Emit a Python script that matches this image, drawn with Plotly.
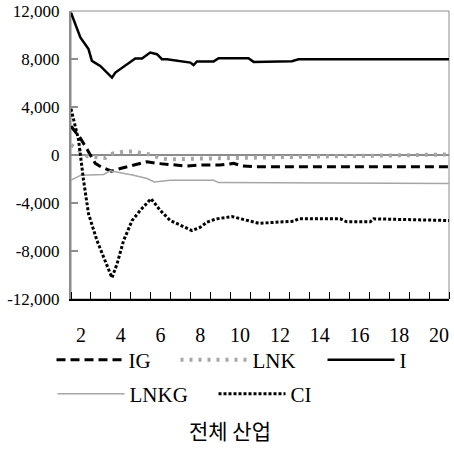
import plotly.graph_objects as go

# ---- data (period, value) ----
IG_x = [1.5, 1.97, 2.38, 2.72, 3.02, 3.53, 4.03, 4.63, 5.32, 5.82, 6.66, 7.33, 8.0, 9.0, 9.67, 10.09, 10.68, 20.5]
IG_y = [2400, 1400, 280, -700, -1000, -1350, -1100, -840, -560, -700, -840, -920, -840, -840, -700, -900, -980, -980]

LNK_x = [1.5, 1.97, 2.33, 3.22, 3.61, 4.14, 4.65, 5.1, 5.57, 5.99, 6.4, 8.0, 11.0, 15.5, 18.0, 20.5]
LNK_y = [840, 360, -100, -250, 140, 280, 300, 140, 0, -280, -360, -300, -180, -80, -30, 50]

I_x = [1.5, 1.97, 2.38, 2.55, 2.97, 3.56, 3.73, 4.22, 4.73, 5.07, 5.48, 5.82, 6.07, 6.32, 7.5, 7.66, 7.83, 8.67, 8.92, 10.42, 10.68, 12.6, 12.94, 20.5]
I_y = [11850, 9800, 8820, 7840, 7420, 6450, 6870, 7420, 8040, 8040, 8540, 8400, 7980, 7980, 7700, 7500, 7800, 7800, 8060, 8060, 7760, 7810, 7980, 7980]

LNKG_x = [1.5, 2.0, 3.14, 3.47, 4.65, 5.32, 5.69, 6.49, 8.67, 8.92, 20.5]
LNKG_y = [-2100, -1680, -1620, -1320, -1680, -1960, -2240, -2100, -2100, -2300, -2380]

CI_x = [1.5, 1.88, 2.13, 2.38, 2.81, 3.31, 3.56, 3.81, 4.14, 4.57, 4.98, 5.52, 5.99, 6.49, 7.08, 7.58, 8.0, 8.33, 8.67, 8.9, 9.59, 10.17, 10.93, 12.69, 12.94, 15.03, 15.37, 16.54, 16.71, 20.5]
CI_y = [3850, 1260, -2100, -4900, -7150, -9100, -10230, -9100, -7150, -5460, -4620, -3640, -4620, -5460, -5880, -6300, -6020, -5600, -5400, -5300, -5130, -5400, -5690, -5520, -5320, -5320, -5570, -5570, -5320, -5460]

x_labels = [2, 4, 6, 8, 10, 12, 14, 16, 18, 20]
y_ticks = [12000, 8000, 4000, 0, -4000, -8000, -12000]
y_text = ["12,000", "8,000", "4,000", "0", "-4,000", "-8,000", "-12,000"]
title_text = "전체 산업"

SERIF = "Liberation Serif, DejaVu Serif, serif"
GRAY = "#a6a6a6"
W, H = 454, 449

fig = go.Figure()
fig.add_trace(go.Scatter(x=IG_x, y=IG_y, name="IG", mode="lines", legend="legend",
                         line=dict(color="black", width=3, dash="9px,5px")))
fig.add_trace(go.Scatter(x=LNK_x, y=LNK_y, name="LNK", mode="lines", legend="legend2",
                         line=dict(color=GRAY, width=4, dash="3px,6px")))
fig.add_trace(go.Scatter(x=I_x, y=I_y, name="I", mode="lines", legend="legend3",
                         line=dict(color="black", width=2.5)))
fig.add_trace(go.Scatter(x=LNKG_x, y=LNKG_y, name="LNKG", mode="lines", legend="legend4",
                         line=dict(color=GRAY, width=1.5)))
fig.add_trace(go.Scatter(x=CI_x, y=CI_y, name="CI", mode="lines", legend="legend5",
                         line=dict(color="black", width=3, dash="3px,2px")))


def leg(px, py):
    return dict(orientation="h", xref="container", yref="container",
                x=(px - 4.5) / W, y=1 - py / H, xanchor="left", yanchor="middle",
                itemwidth=67, font=dict(family=SERIF, size=21, color="black"),
                bgcolor="rgba(0,0,0,0)")


fig.update_layout(
    width=W, height=H,
    margin=dict(l=71, r=5, t=11, b=150, autoexpand=False),
    paper_bgcolor="white", plot_bgcolor="white",
    font=dict(family=SERIF, color="black", size=18),
    showlegend=True,
    legend=leg(56, 360), legend2=leg(180, 360), legend3=leg(327, 360),
    legend4=leg(57, 394), legend5=leg(218, 394),
    title=dict(text=title_text, xref="container", yref="container",
               x=230 / W, y=1 - 432 / H, xanchor="center", yanchor="middle",
               font=dict(family="Noto Sans CJK KR", size=21, color="black")),
    shapes=[dict(type="rect", xref="paper", yref="paper", x0=0, y0=0, x1=1, y1=1,
                 line=dict(color="#8c8c8c", width=1), layer="below")],
)

fig.update_xaxes(range=[1.5, 20.5], showgrid=False, zeroline=False, automargin=False,
                 showline=True, linecolor="black", linewidth=1.5,
                 tickvals=x_labels, ticktext=[str(v) for v in x_labels],
                 ticks="", ticklabelstandoff=17,
                 tickfont=dict(family=SERIF, size=20, color="black"),
                 minor=dict(ticks="inside", ticklen=7, tickcolor="black", tickwidth=1,
                            tick0=1.5, dtick=1, showgrid=False))
fig.update_yaxes(range=[-12000, 12000], showgrid=False, automargin=False,
                 zeroline=True, zerolinecolor="#8c8c8c", zerolinewidth=1.5,
                 showline=True, linecolor="#8c8c8c", linewidth=2,
                 tickvals=y_ticks, ticktext=y_text,
                 ticks="inside", ticklen=7, tickcolor="#8c8c8c", tickwidth=1.5,
                 ticklabelstandoff=6,
                 tickfont=dict(family=SERIF, size=17, color="black"))

fig.write_html("out.html")
